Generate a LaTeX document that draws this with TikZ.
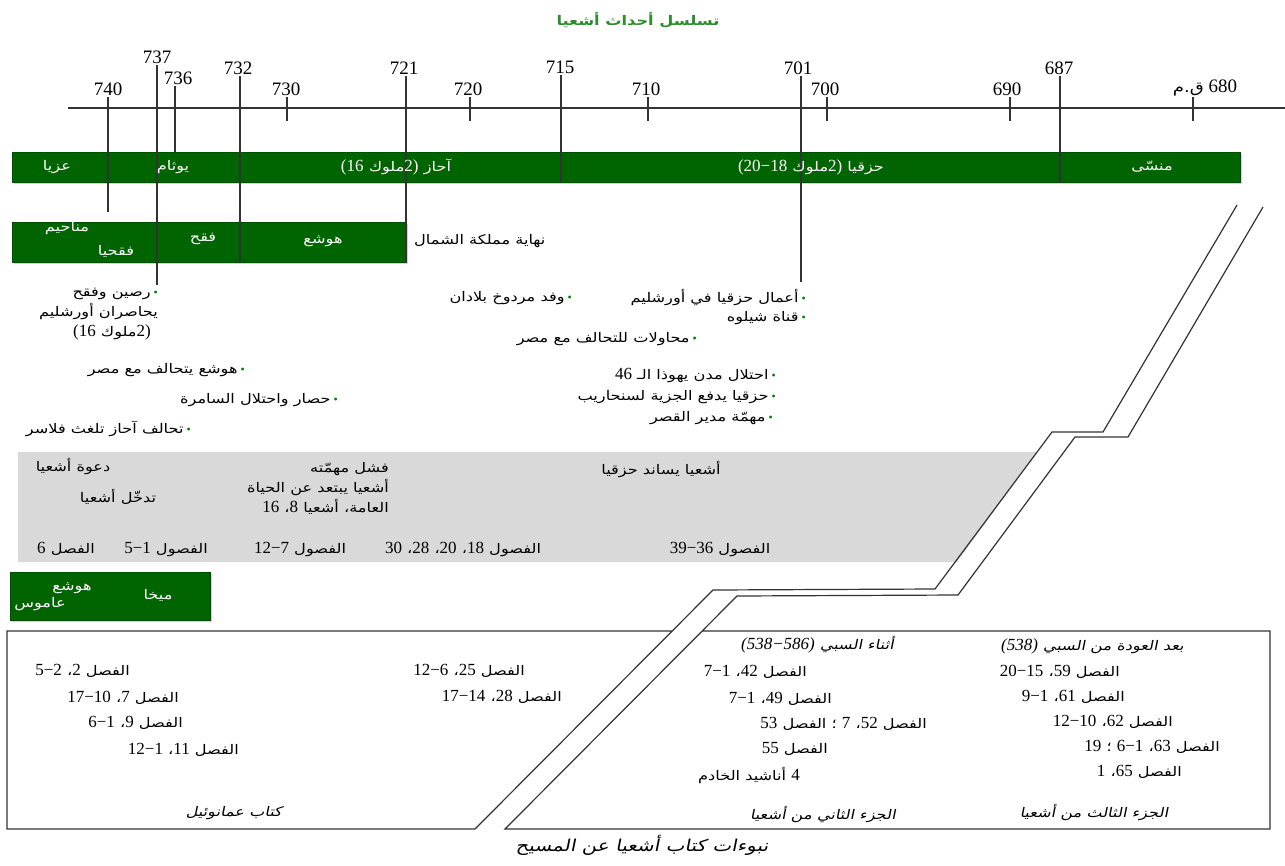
\documentclass[tikz,border=0pt]{standalone}
\usepackage{fontspec}
\setmainfont{Liberation Serif}
\newfontfamily\arfont[Script=Arabic,Scale=0.78,FakeStretch=1.22]{DejaVu Sans}
\newfontfamily\arslfont[Script=Arabic,Scale=0.78,FakeStretch=1.22,FakeSlant=0.2]{DejaVu Sans}
\TeXXeTstate=1
\usetikzlibrary{shadows}
\definecolor{isaGreen}{HTML}{006400}
\definecolor{isaTitle}{HTML}{2E8B2E}
\definecolor{isaDot}{HTML}{008000}
\definecolor{isaGray}{HTML}{D9D9D9}
\definecolor{isaLine}{HTML}{333333}
% Arabic phrase (right to left), numbers in Times-like serif
\newcommand\R[1]{\beginR#1\endR}
\newcommand\N[1]{{\rmfamily#1}}
\newcommand\NI[1]{{\rmfamily\itshape#1}}
\newcommand\bul{\kern3pt{\rmfamily\fontsize{12}{12}\selectfont\color{isaDot}•}}
\newcommand\txtfont{\fontsize{17}{20}\selectfont\arfont}
\newcommand\headfont{\fontsize{17}{20}\selectfont\arslfont}
\tikzset{
  year/.style={font=\fontsize{19}{21}\selectfont\rmfamily, inner sep=1pt, anchor=south},
  yline/.style={draw=isaLine, line width=1.3pt},
  tick/.style={draw=isaLine, line width=1.3pt},
  bar/.style={fill=isaGreen, draw=isaGreen!80!black, inner sep=0pt,
    anchor=north west,
    drop shadow={shadow xshift=1.5pt, shadow yshift=-1.5pt, opacity=0.35}},
  onbar/.style={text=white, font=\txtfont, inner sep=1pt},
  note/.style={font=\txtfont, inner sep=1pt},
  event/.style={note, anchor=east},
  head/.style={font=\headfont, inner sep=1pt},
  cut/.style={draw=isaLine, line width=1.2pt}
}
\begin{document}
\begin{tikzpicture}[x=1pt, y=-1pt]
  \path[use as bounding box] (0,0) rectangle (1285,865);
  \node[font=\fontsize{17}{20}\selectfont\arfont\bfseries, text=isaTitle]
    (title) at (638,20) {\R{تسلسل أحداث أشعيا}};

  % bars
  \node[bar, minimum width=1228pt, minimum height=30pt] (reign) at (12,152) {};
  \node[bar, minimum width=394pt, minimum height=40pt] (kings) at (12,222) {};
  \node[bar, minimum width=200pt, minimum height=48pt] (prophets) at (10,572) {};
  \fill[isaGray] (18,452) -- (1037,452) -- (957,562) -- (18,562) -- cycle;

  % time axis
  \coordinate (axisL) at (68,108);
  \coordinate (axisR) at (1285,108);
  \draw[tick] (axisL) -- (axisR);
  \foreach \x/\lx/\yr/\top/\bot in {108/108/740/97/212, 157/157/737/65/285,
      175/178/736/86/152, 240/238/732/76/262, 406/404/721/76/262,
      561/560/715/75/182, 801/798/701/76/282, 1060/1059/687/76/183}
  {
    \node[year] (y\yr) at (\lx,\top) {\yr};
    \draw[yline] (\x,\top) -- (\x,\bot);
  }
  \foreach \x/\lx/\yr in {287/286/730, 470/468/720, 648/646/710,
      827/825/700, 1010/1007/690}
  {
    \node[year] (y\yr) at (\lx,97) {\yr};
    \draw[tick] (\x,97) -- (\x,121);
  }
  \node[year] (y680) at (1205,97) {{\arfont ق.م} 680};
  \draw[tick] (1193,97) -- (1193,121);

  % kings
  \node[onbar] (uzziah) at (57,167) {عزيا};
  \node[onbar] (jotham) at (173,167) {يوثام};
  \node[onbar] (ahaz) at (396,167) {\N{(16} ملوك\N{2)} آحاز};
  \node[onbar] (hezekiah) at (811,167) {\N{(20−18} ملوك\N{2)} حزقيا};
  \node[onbar] (manasseh) at (1152,167) {منسّى};
  \node[onbar] (menahem) at (67,228) {مناحيم};
  \node[onbar] (pekahiah) at (116,251) {فقحيا};
  \node[onbar] (pekah) at (203,239) {فقح};
  \node[onbar] (hoshea) at (323,241) {هوشع};
  \node[note, anchor=west] (fall) at (413,241) {\R{نهاية مملكة الشمال}};

  % events
  \node[note, align=right, anchor=north east] (rezin) at (159,287)
    {\R{رصين وفقح}\bul\\\R{يحاصران أورشليم}\hspace*{7pt}\\
     \N{(16} ملوك\N{2)}\hspace*{7pt}};
  \node[event] (hosheaEgypt) at (246,370) {\R{هوشع يتحالف مع مصر}\bul};
  \node[event] (samaria) at (339,400) {\R{حصار واحتلال السامرة}\bul};
  \node[event] (ahazTiglath) at (192,429) {\R{تحالف آحاز تلغث فلاسر}\bul};
  \node[event] (works) at (807,297) {\R{أعمال حزقيا في أورشليم}\bul};
  \node[event] (siloam) at (807,318) {\R{قناة شيلوه}\bul};
  \node[event] (merodach) at (573,298) {\R{وفد مردوخ بلادان}\bul};
  \node[event] (egypt) at (698,339) {\R{محاولات للتحالف مع مصر}\bul};
  \node[event] (cities) at (777,375) {\N{46} \R{احتلال مدن يهوذا الـ}\bul};
  \node[event] (tribute) at (777,397) {\R{حزقيا يدفع الجزية لسنحاريب}\bul};
  \node[event] (steward) at (774,418) {\R{مهمّة مدير القصر}\bul};

  % ministry
  \node[note] (call) at (73,466) {\R{دعوة أشعيا}};
  \node[note] (intervene) at (118,497) {\R{تدخّل أشعيا}};
  \node[note, align=right, anchor=north east] (fail) at (390,461)
    {\R{فشل مهمّته}\\\R{أشعيا يبتعد عن الحياة}\\
     \N{16} ،\N{8} \R{العامة، أشعيا}};
  \node[note] (support) at (661,469) {\R{أشعيا يساند حزقيا}};
  \node[note] (ch6) at (66,549) {\N{6} الفصل};
  \node[note] (ch1) at (166,549) {\N{5−1} الفصول};
  \node[note] (ch7) at (300,549) {\N{12−7} الفصول};
  \node[note] (ch18) at (463,549) {\N{30} ،\N{28} ،\N{20} ،\N{18} الفصول};
  \node[note] (ch36) at (720,549) {\N{39−36} الفصول};
  \node[onbar] (micah) at (158,595) {ميخا};
  \node[onbar] (hosheaP) at (72,588) {هوشع};
  \node[onbar] (amos) at (40,604) {عاموس};

  % prophecies
  \draw[cut] (1237,205) -- (1103,432) -- (1052,432) -- (935,589) -- (713,590)
    -- (475,829) -- (7,829) -- (7,631) -- (672,631);
  \draw[cut] (1263,207) -- (1128,437) -- (1075,437) -- (958,595) -- (737,596)
    -- (505,829) -- (1270,829) -- (1270,631) -- (702,631);
  \node[note, anchor=east] (em1) at (131,671) {\N{5−2} ،\N{2} الفصل};
  \node[note, anchor=east] (em2) at (180,698) {\N{17−10} ،\N{7} الفصل};
  \node[note, anchor=east] (em3) at (184,723) {\N{6−1} ،\N{9} الفصل};
  \node[note, anchor=east] (em4) at (240,750) {\N{12−1} ،\N{11} الفصل};
  \node[note, anchor=east] (em5) at (526,671) {\N{12−6} ،\N{25} الفصل};
  \node[note, anchor=east] (em6) at (563,697) {\N{17−14} ،\N{28} الفصل};
  \node[head] (emmanuel) at (234,813) {\R{كتاب عمانوئيل}};
  \node[head, anchor=east] (exileHd) at (895,645)
    {\NI{(538−586)} \R{أثناء السبي}};
  \node[note, anchor=east] (ex1) at (808,672) {\N{7−1} ،\N{42} الفصل};
  \node[note, anchor=east] (ex2) at (833,699) {\N{7−1} ،\N{49} الفصل};
  \node[note, anchor=east] (ex3) at (928,724)
    {\R{الفصل \N{52}، \N{7} ؛ الفصل \N{53}}};
  \node[note, anchor=east] (ex4) at (829,749) {\N{55} الفصل};
  \node[note, anchor=east] (ex5) at (801,775) {\R{أناشيد الخادم} \N{4}};
  \node[head] (second) at (823,814) {\R{الجزء الثاني من أشعيا}};
  \node[head, anchor=east] (returnHd) at (1185,646)
    {\NI{(538)} \R{بعد العودة من السبي}};
  \node[note, anchor=east] (re1) at (1121,672) {\N{20−15} ،\N{59} الفصل};
  \node[note, anchor=east] (re2) at (1126,697) {\N{9−1} ،\N{61} الفصل};
  \node[note, anchor=east] (re3) at (1174,722) {\N{12−10} ،\N{62} الفصل};
  \node[note, anchor=east] (re4) at (1221,747)
    {\N{19} ؛ \N{6−1} ،\N{63} الفصل};
  \node[note, anchor=east] (re5) at (1183,772) {\N{1} ،\N{65} الفصل};
  \node[head] (third) at (1094,812) {\R{الجزء الثالث من أشعيا}};
  \node[head, font=\fontsize{21}{24}\selectfont\arslfont] (caption) at (642,845)
    {\R{نبوءات كتاب أشعيا عن المسيح}};
\end{tikzpicture}
\end{document}
